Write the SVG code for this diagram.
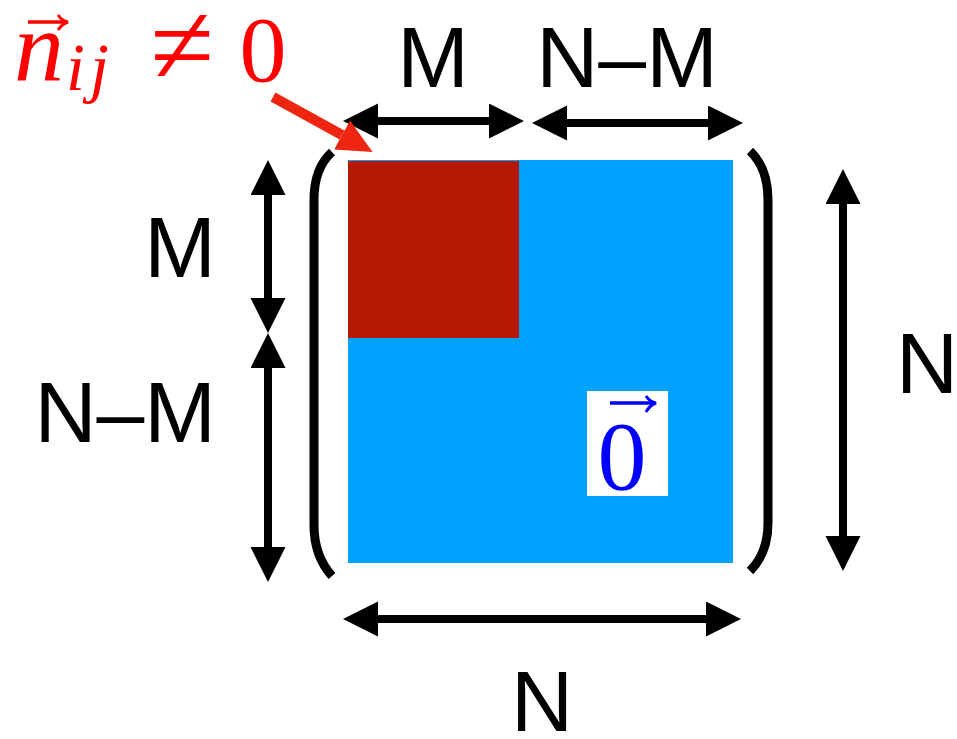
<svg xmlns="http://www.w3.org/2000/svg" width="957" height="739" viewBox="0 0 957 739">
<style>
.lbl{font-family:"Liberation Sans",Arial,sans-serif;font-size:86px;fill:#000}
.math{font-family:"Liberation Serif","Times New Roman",serif}
.dim{stroke:#000;stroke-width:8;fill:none}
.br{stroke:#000;stroke-width:9;fill:none}
</style>
<defs>
<marker id="ah" markerUnits="userSpaceOnUse" markerWidth="36" markerHeight="36" refX="0" refY="17.5" orient="auto-start-reverse" viewBox="0 0 36 36">
<path d="M0,0 L35,17.5 L0,35 z" fill="#000"/>
</marker>
<marker id="rh" markerUnits="userSpaceOnUse" markerWidth="36" markerHeight="34" refX="0" refY="16.5" orient="auto" viewBox="0 0 36 34">
<path d="M0,0 L35,16.5 L0,33 z" fill="#ee2510"/>
</marker>
</defs>
<rect width="957" height="739" fill="#fff"/>
<g id="matrix">
<rect x="348" y="160" width="385" height="403" fill="#00a2ff"/>
<rect x="348" y="161" width="171" height="177" fill="#b41800"/>
</g>
<g id="zero-vector">
<rect x="587" y="391" width="81" height="105" fill="#fff"/>
<text class="math" x="622" y="489" font-size="98" text-anchor="middle" fill="#0000ff">0</text>
<path d="M610,403 L654,403" stroke="#0000ff" stroke-width="3.5" fill="none"/>
<path d="M646,396 Q650,402 656,403 Q650,405 646,412" stroke="#0000ff" stroke-width="3" fill="none"/>
</g>
<g id="brackets">
<path class="br" d="M332,152 Q314,168 314,200 L314,525 Q314,556 332,576"/>
<path class="br" d="M750,151 Q768,168 768,200 L768,523 Q768,553 750,571"/>
</g>
<g id="connectors">
<line class="dim" x1="378" y1="121" x2="489" y2="121" marker-start="url(#ah)" marker-end="url(#ah)"/>
<line class="dim" x1="567" y1="123" x2="708" y2="123" marker-start="url(#ah)" marker-end="url(#ah)"/>
<line class="dim" x1="268" y1="195" x2="268" y2="298" marker-start="url(#ah)" marker-end="url(#ah)"/>
<line class="dim" x1="268" y1="368" x2="268" y2="547" marker-start="url(#ah)" marker-end="url(#ah)"/>
<line class="dim" x1="843" y1="204" x2="843" y2="536" marker-start="url(#ah)" marker-end="url(#ah)"/>
<line class="dim" x1="378" y1="619" x2="706" y2="619" marker-start="url(#ah)" marker-end="url(#ah)"/>
<line x1="273" y1="97" x2="342" y2="135" stroke="#ee2510" stroke-width="10" marker-end="url(#rh)"/>
</g>
<g id="labels">
<text class="lbl" x="433" y="87" text-anchor="middle">M</text>
<text class="lbl" x="627" y="87" text-anchor="middle">N–M</text>
<text class="lbl" x="216" y="277" text-anchor="end">M</text>
<text class="lbl" x="216" y="442" text-anchor="end">N–M</text>
<text class="lbl" x="927" y="393" text-anchor="middle">N</text>
<text class="lbl" x="542" y="731" text-anchor="middle">N</text>
</g>
<g id="label-nij" fill="#ff0000">
<text class="math" x="14" y="80" font-size="100" font-style="italic">n</text>
<text class="math" x="66" y="90" font-size="68" font-style="italic" letter-spacing="5">ij</text>
<path d="M28,22 L66,22" stroke="#ff0000" stroke-width="3.5" fill="none"/>
<path d="M58,15 Q62,21 68,22 Q62,24 58,30" stroke="#ff0000" stroke-width="3" fill="none"/>
<text class="math" x="182" y="84" font-size="116" text-anchor="middle">≠</text>
<text class="math" x="263" y="81" font-size="94" text-anchor="middle">0</text>
</g>
</svg>
